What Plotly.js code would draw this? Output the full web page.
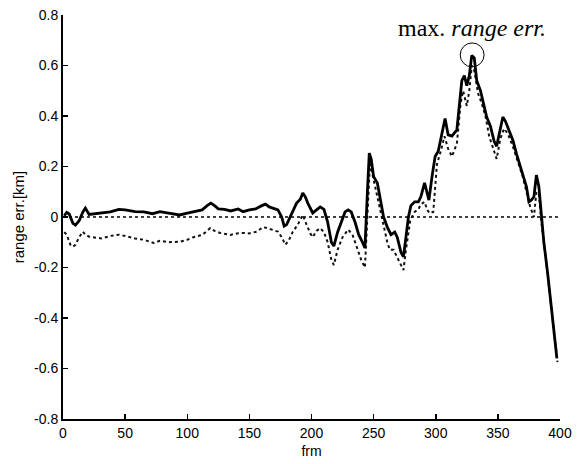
<!DOCTYPE html>
<html>
<head>
<meta charset="utf-8">
<script src="https://cdn.plot.ly/plotly-3.0.1.min.js"></script>
<style>
  html, body { margin: 0; padding: 0; background: #fff; }
  #chart { width: 584px; height: 464px; }
</style>
</head>
<body>
<div id="chart"></div>
<script>
// Solid line (range error, method A)
const solidFrm = [1, 3, 5, 8, 10, 13, 16, 18, 21, 25, 31, 38, 45, 50, 58, 65, 72, 78, 85, 94, 100, 105, 112, 116, 119, 122, 125, 130, 135, 141, 145, 150, 155, 160, 163, 166, 170, 173, 176, 178, 180, 183, 188, 191, 193, 195, 197, 201, 204, 207, 210, 213, 216, 218, 221, 224, 227, 229.5, 232, 235, 238, 241, 243, 245, 246.5, 248, 250, 253, 256, 258, 261, 264, 267, 269, 272, 274, 276, 278, 280, 283, 286, 288, 291, 293, 294.5, 297, 299.5, 302, 305, 307.5, 310, 313, 317, 319, 321, 323, 325, 327, 329, 331, 333, 336, 339, 341, 344, 347, 349, 351, 354, 356, 359, 362, 365, 368, 371, 373, 375, 377, 379, 381, 383, 385, 387, 390, 393, 395, 397.5];
const solidErr = [0.005, 0.018, 0.012, -0.025, -0.032, -0.015, 0.02, 0.035, 0.01, 0.012, 0.015, 0.02, 0.03, 0.028, 0.021, 0.02, 0.013, 0.021, 0.015, 0.008, 0.015, 0.021, 0.028, 0.045, 0.055, 0.045, 0.032, 0.03, 0.024, 0.032, 0.021, 0.028, 0.032, 0.045, 0.051, 0.04, 0.032, 0.028, 0.0, -0.036, -0.03, 0.0, 0.055, 0.07, 0.095, 0.08, 0.055, 0.016, 0.03, 0.04, 0.03, -0.02, -0.1, -0.115, -0.06, -0.02, 0.02, 0.028, 0.02, -0.02, -0.07, -0.1, -0.123, 0.1, 0.253, 0.23, 0.16, 0.135, 0.06, 0.0, -0.04, -0.07, -0.06, -0.08, -0.14, -0.158, -0.08, 0.0, 0.045, 0.06, 0.06, 0.08, 0.135, 0.1, 0.067, 0.16, 0.24, 0.26, 0.33, 0.39, 0.325, 0.32, 0.345, 0.45, 0.54, 0.56, 0.52, 0.56, 0.64, 0.63, 0.54, 0.5, 0.44, 0.396, 0.36, 0.3, 0.28, 0.33, 0.396, 0.38, 0.34, 0.305, 0.25, 0.2, 0.15, 0.12, 0.06, 0.067, 0.08, 0.166, 0.12, 0.0, -0.1, -0.22, -0.36, -0.47, -0.56];

// Dotted line (range error, method B)
const dottedFrm = [1, 3, 6, 8, 10, 13, 16, 18, 21, 25, 31, 38, 45, 50, 58, 65, 73, 78, 85, 94, 100, 105, 112, 116, 118.5, 122, 126.5, 134.6, 140, 145, 150, 156, 161, 165, 169, 173, 176, 179, 182, 185, 189, 193, 196, 199, 201, 204, 207, 210, 213, 216, 218, 221, 225, 229.5, 233, 237, 240, 243, 245, 247, 249, 252, 255, 258, 261, 263, 266, 269, 272, 274, 276, 279.5, 283, 286, 288, 291, 293, 295, 298, 301, 304, 307, 310, 313, 317, 320, 322, 325, 327, 329, 331, 334, 337, 340, 343, 346, 349, 352, 355, 358, 362, 366, 370, 373, 376, 379, 381, 383, 385, 388, 391, 394, 396, 398];
const dottedErr = [-0.06, -0.07, -0.11, -0.118, -0.11, -0.08, -0.058, -0.07, -0.078, -0.08, -0.085, -0.075, -0.07, -0.075, -0.085, -0.09, -0.103, -0.094, -0.1, -0.098, -0.09, -0.08, -0.071, -0.055, -0.044, -0.055, -0.063, -0.071, -0.065, -0.063, -0.065, -0.058, -0.04, -0.045, -0.052, -0.058, -0.08, -0.11, -0.09, -0.058, -0.03, 0.008, -0.03, -0.065, -0.08, -0.055, -0.044, -0.06, -0.1, -0.17, -0.19, -0.13, -0.08, -0.05, -0.07, -0.13, -0.17, -0.2, 0.0, 0.21, 0.17, 0.1, 0.04, -0.03, -0.1, -0.13, -0.13, -0.16, -0.19, -0.21, -0.13, -0.012, 0.02, 0.03, 0.05, 0.06, 0.03, 0.015, 0.02, 0.21, 0.26, 0.32, 0.27, 0.24, 0.29, 0.45, 0.5, 0.44, 0.5, 0.6, 0.58, 0.49, 0.45, 0.4, 0.32, 0.27, 0.23, 0.31, 0.35, 0.33, 0.28, 0.22, 0.16, 0.1, 0.04, 0.0, 0.1, 0.09, -0.02, -0.14, -0.27, -0.4, -0.5, -0.575];

// Zero reference line
const zeroFrm = [0, 400];
const zeroErr = [0, 0];

// Axis ticks
const xTicks = [0, 50, 100, 150, 200, 250, 300, 350, 400];
const yTicks = [-0.8, -0.6, -0.4, -0.2, 0, 0.2, 0.4, 0.6, 0.8];
const yTickText = ['-0.8', '-0.6', '-0.4', '-0.2', '0', '0.2', '0.4', '0.6', '0.8'];

// Max error marker
const maxFrm = 329.3;
const maxErr = 0.642;

const traces = [
  { x: zeroFrm, y: zeroErr, mode: 'lines', line: { color: '#000', width: 1.5, dash: 'dot' }, hoverinfo: 'skip' },
  { x: dottedFrm, y: dottedErr, mode: 'lines', line: { color: '#111', width: 2, dash: 'dot' } },
  { x: solidFrm, y: solidErr, mode: 'lines', line: { color: '#000', width: 2.8 } }
];

const layout = {
  width: 584, height: 464,
  margin: { l: 63, r: 24, t: 15, b: 45 },
  paper_bgcolor: '#fff', plot_bgcolor: '#fff',
  showlegend: false,
  font: { family: 'Arial, "Liberation Sans", sans-serif', color: '#000', size: 14 },
  xaxis: {
    range: [0, 400], tickvals: xTicks, ticktext: xTicks.map(String),
    ticks: 'inside', ticklen: 5, tickwidth: 1.5, tickcolor: '#000',
    showline: true, linecolor: '#000', linewidth: 2, mirror: false,
    showgrid: false, zeroline: false,
    tickfont: { size: 14 },
    title: { text: 'frm', font: { size: 14 }, standoff: 6 }
  },
  yaxis: {
    range: [-0.8, 0.8], tickvals: yTicks, ticktext: yTickText,
    ticks: 'inside', ticklen: 5, tickwidth: 1.5, tickcolor: '#000',
    showline: true, linecolor: '#000', linewidth: 2, mirror: false,
    showgrid: false, zeroline: false,
    tickfont: { size: 14 },
    title: { text: 'range err.[km]', font: { size: 15 }, standoff: 6 }
  },
  shapes: [
    { type: 'circle', xref: 'x', yref: 'y',
      x0: maxFrm - 9.6, x1: maxFrm + 9.6, y0: maxErr - 0.0475, y1: maxErr + 0.0475,
      line: { color: '#000', width: 1 } }
  ],
  annotations: [
    { x: maxFrm, y: 0.749, xref: 'x', yref: 'y', showarrow: false,
      text: 'max. <i>range err.</i>',
      font: { family: '"Liberation Serif", "DejaVu Serif", serif', size: 24, color: '#000' } }
  ]
};

Plotly.newPlot('chart', traces, layout, { displayModeBar: false, staticPlot: true });
</script>
</body>
</html>
